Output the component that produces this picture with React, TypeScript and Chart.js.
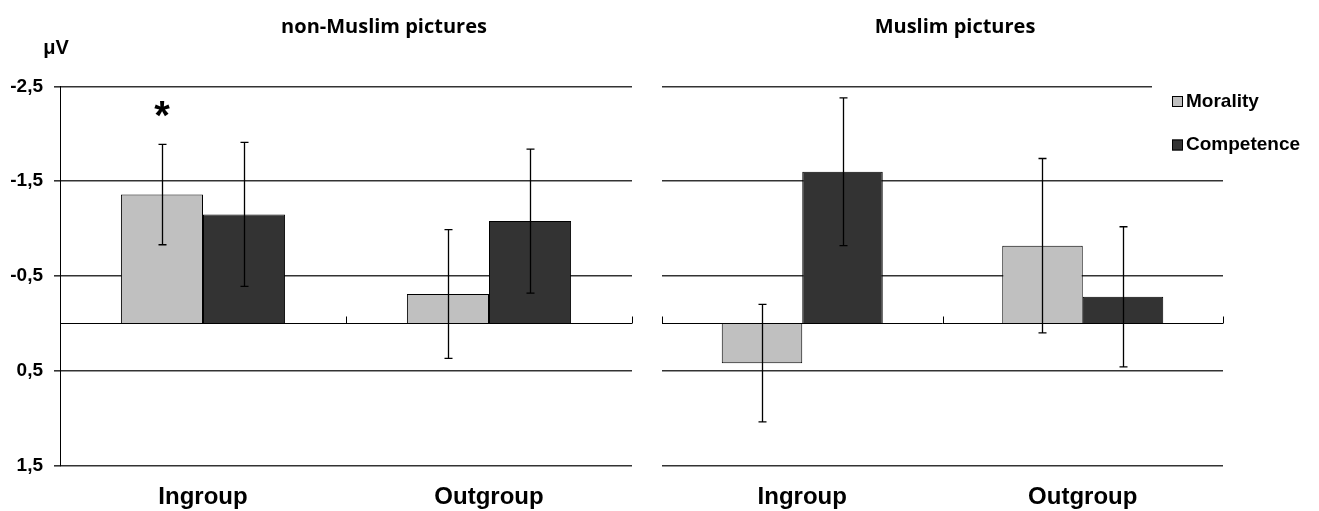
import React, { useEffect, useRef } from 'react';
import { Chart, registerables } from 'chart.js';

Chart.register(...registerables);

const categories = ['Ingroup', 'Outgroup'];
const seriesNames = ['Morality', 'Competence'];
const yTickValues = [-2.5, -1.5, -0.5, 0.5, 1.5];

const nonMuslimMorality = [-1.36, -0.31];
const nonMuslimCompetence = [-1.15, -1.08];
const nonMuslimMoralityErr = [0.53, 0.68];
const nonMuslimCompetenceErr = [0.76, 0.76];
const nonMuslimMoralityMarks = ['*', ''];

const muslimMorality = [0.42, -0.82];
const muslimCompetence = [-1.6, -0.28];
const muslimMoralityErr = [0.62, 0.92];
const muslimCompetenceErr = [0.78, 0.74];
const muslimMoralityMarks = ['', ''];

const ARIAL = "'Liberation Sans', Arial, sans-serif";
const TITLE_FONT = "'Open Sans', 'Liberation Sans', sans-serif";
const MORALITY_COLOR = '#c0c0c0';
const COMPETENCE_COLOR = '#333333';

const panelDecor = {
  id: 'panelDecor',
  afterDatasetsDraw(chart: any) {
    const ctx = chart.ctx;
    const xs = chart.scales.x;
    const ys = chart.scales.y;
    const area = chart.chartArea;
    ctx.save();
    // zero axis line with category boundary ticks
    const y0 = Math.round(ys.getPixelForValue(0)) + 0.5;
    ctx.strokeStyle = '#000';
    ctx.lineWidth = 1;
    ctx.beginPath();
    ctx.moveTo(area.left, y0);
    ctx.lineTo(area.right, y0);
    const n = chart.data.labels.length;
    for (let i = 0; i <= n; i++) {
      let bx: number;
      if (i === 0) bx = area.left;
      else if (i === n) bx = area.right;
      else bx = (xs.getPixelForValue(i - 1) + xs.getPixelForValue(i)) / 2;
      const px = Math.round(bx) + 0.5;
      ctx.moveTo(px, y0);
      ctx.lineTo(px, y0 - 7);
    }
    ctx.stroke();

    // error bars and significance marks
    chart.data.datasets.forEach((ds: any, di: number) => {
      const meta = chart.getDatasetMeta(di);
      meta.data.forEach((el: any, i: number) => {
        const v = ds.data[i];
        const e = ds.errors[i];
        const top = ys.getPixelForValue(v - e);
        const bot = ys.getPixelForValue(v + e);
        const cx = Math.round(el.x) + 0.5;
        ctx.strokeStyle = '#000';
        ctx.lineWidth = 1.3;
        ctx.beginPath();
        ctx.moveTo(cx, top);
        ctx.lineTo(cx, bot);
        ctx.moveTo(cx - 4, top);
        ctx.lineTo(cx + 4, top);
        ctx.moveTo(cx - 4, bot);
        ctx.lineTo(cx + 4, bot);
        ctx.stroke();
        if (ds.marks && ds.marks[i]) {
          ctx.fillStyle = '#000';
          ctx.font = `bold 40px ${ARIAL}`;
          ctx.textAlign = 'center';
          ctx.textBaseline = 'alphabetic';
          ctx.fillText(ds.marks[i], el.x, top - 15);
        }
      });
    });
    ctx.restore();
  },
  afterDraw(chart: any, _args: any, opts: any) {
    const ctx = chart.ctx;
    const area = chart.chartArea;
    ctx.save();
    ctx.fillStyle = '#000';
    ctx.textAlign = 'center';
    ctx.textBaseline = 'middle';
    ctx.font = `bold 20px ${TITLE_FONT}`;
    ctx.fillText(opts.title, opts.titleX, 27);
    if (opts.unit) {
      ctx.font = `bold 20px ${ARIAL}`;
      ctx.fillText(opts.unit, area.left - 4, 48);
    }
    if (opts.legend) {
      const lx = area.right - 51;
      ctx.fillStyle = '#fff';
      ctx.fillRect(area.right - 71, area.top - 8, 200, 90);
      chart.data.datasets.forEach((ds: any, i: number) => {
        const cy = area.top + 15 + i * 43.5;
        ctx.fillStyle = ds.backgroundColor;
        ctx.fillRect(lx, cy - 5.5, 11, 11);
        ctx.strokeStyle = '#000';
        ctx.lineWidth = 1;
        ctx.strokeRect(lx + 0.5, cy - 5, 10, 10);
        ctx.fillStyle = '#000';
        ctx.textAlign = 'left';
        ctx.font = `bold 19px ${ARIAL}`;
        ctx.fillText(ds.label, lx + 14, cy);
      });
    }
    ctx.restore();
  },
};

type PanelCfg = {
  morality: number[];
  competence: number[];
  moralityErr: number[];
  competenceErr: number[];
  marks: string[];
  title: string;
  titleX: number;
  unit: string;
  showY: boolean;
  yWidth: number;
  padRight: number;
  legend: boolean;
};

function makeConfig(p: PanelCfg): any {
  return {
    type: 'bar',
    data: {
      labels: categories,
      datasets: [
        {
          label: seriesNames[0],
          data: p.morality,
          errors: p.moralityErr,
          marks: p.marks,
          backgroundColor: MORALITY_COLOR,
          borderColor: '#000',
          borderWidth: 1,
          categoryPercentage: 0.574,
          barPercentage: 1,
        },
        {
          label: seriesNames[1],
          data: p.competence,
          errors: p.competenceErr,
          backgroundColor: COMPETENCE_COLOR,
          borderColor: '#000',
          borderWidth: 1,
          categoryPercentage: 0.574,
          barPercentage: 1,
        },
      ],
    },
    options: {
      responsive: false,
      animation: false,
      layout: { padding: { left: 0, right: p.padRight, top: 86.5, bottom: 0 } },
      plugins: {
        legend: { display: false },
        tooltip: { enabled: false },
        title: { display: false },
        panelDecor: {
          title: p.title,
          titleX: p.titleX,
          unit: p.unit,
          legend: p.legend,
        },
      },
      scales: {
        x: {
          type: 'category',
          offset: true,
          grid: { display: false, drawTicks: false },
          border: { display: false },
          ticks: {
            color: '#000',
            padding: 17,
            font: { family: ARIAL, size: 24, weight: 'bold' },
          },
          afterFit: (s: any) => {
            s.height = 45.5;
          },
        },
        y: {
          type: 'linear',
          reverse: true,
          min: -2.5,
          max: 1.5,
          afterBuildTicks: (s: any) => {
            s.ticks = yTickValues.map((v) => ({ value: v }));
          },
          ticks: {
            display: p.showY,
            color: '#000',
            padding: 11,
            font: { family: ARIAL, size: 19, weight: 'bold' },
            callback: (v: any) => String(v).replace('.', ','),
          },
          grid: {
            color: '#333333',
            lineWidth: 1.6,
            drawTicks: p.showY,
            tickLength: 6,
          },
          border: { display: p.showY, color: '#000', width: 1 },
          afterFit: (s: any) => {
            s.width = p.yWidth;
          },
        },
      },
    },
    plugins: [panelDecor],
  };
}

function Panel({ cfg, left, width }: { cfg: PanelCfg; left: number; width: number }) {
  const ref = useRef<HTMLCanvasElement | null>(null);
  useEffect(() => {
    const chart = new Chart(ref.current as HTMLCanvasElement, makeConfig(cfg));
    return () => chart.destroy();
  }, []);
  return (
    <canvas
      ref={ref}
      width={width}
      height={511}
      style={{ position: 'absolute', left, top: 0, width, height: 511, display: 'block' }}
    />
  );
}

const leftCfg: PanelCfg = {
  morality: nonMuslimMorality,
  competence: nonMuslimCompetence,
  moralityErr: nonMuslimMoralityErr,
  competenceErr: nonMuslimCompetenceErr,
  marks: nonMuslimMoralityMarks,
  title: 'non-Muslim pictures',
  titleX: 384,
  unit: 'μV',
  showY: true,
  yWidth: 60,
  padRight: 18,
  legend: false,
};

const rightCfg: PanelCfg = {
  morality: muslimMorality,
  competence: muslimCompetence,
  moralityErr: muslimMoralityErr,
  competenceErr: muslimCompetenceErr,
  marks: muslimMoralityMarks,
  title: 'Muslim pictures',
  titleX: 305,
  unit: '',
  showY: false,
  yWidth: 12,
  padRight: 96,
  legend: true,
};

export default function App() {
  return (
    <div style={{ position: 'absolute', left: 0, top: 0, width: 1319, height: 511, background: '#fff' }}>
      <Panel cfg={leftCfg} left={0} width={650} />
      <Panel cfg={rightCfg} left={650} width={669} />
    </div>
  );
}
